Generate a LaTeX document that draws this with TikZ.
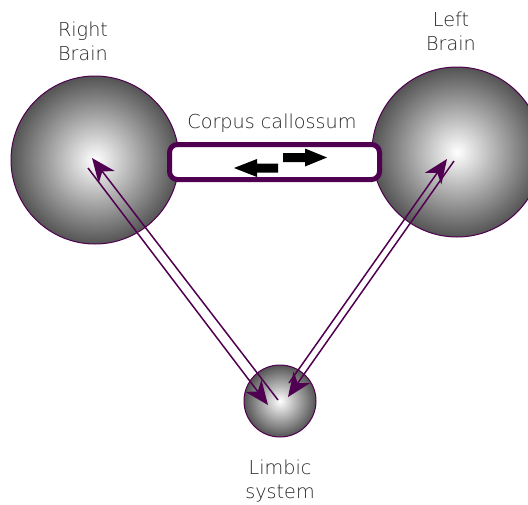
\documentclass[tikz,border=0pt]{standalone}
\usepackage{fontspec}
\setmainfont{DejaVu Sans ExtraLight}
\usetikzlibrary{arrows.meta}
\definecolor{plum}{RGB}{80,0,80}
\begin{document}
\begin{tikzpicture}[x=1pt,y=-1pt,
  brain/.style={circle, draw=plum, line width=1pt, inner color=white, outer color=black!67, inner sep=0pt},
  link/.style={draw=plum, line width=1.5pt, -{Stealth[length=24pt,width=20pt,inset=7pt]}},
  label/.style={text=black!85, font=\fontsize{19.2}{23.5}\selectfont, align=center, inner sep=0pt, anchor=base},
  callosum/.style={draw=plum, line width=5pt, fill=white, rounded corners=8pt, inner sep=0pt},
  block/.style={fill=black}]
\useasboundingbox (0,0) rectangle (528,504);
% circles
\node[brain, minimum size=168pt] (rb) at (95,160) {};
\node[brain, minimum size=170pt] (lb) at (457,152) {};
\node[brain, minimum size=72pt] (ls) at (280,401) {};
% corpus callosum
\node[callosum, minimum width=210pt, minimum height=35pt] (cc) at (274.5,162) {};
\fill[block] (278,163.5) -- (257,163.5) -- (257,159) -- (234,168) -- (257,177) -- (257,172.5) -- (278,172.5) -- cycle;
\fill[block] (283,153) -- (305,153) -- (305,148.5) -- (327,157.5) -- (305,166.5) -- (305,162) -- (283,162) -- cycle;
% labels (anchor = baseline of last line)
\node[label] (rbl) at (83,60) {Right\\Brain};
\node[label] (lbl) at (451,50) {Left\\Brain};
\node[label] (ccl) at (272,128) {Corpus callossum};
\node[label] (lsl) at (280,498) {Limbic\\system};
% connectors
\coordinate (l1s) at (88,168);
\coordinate (l1e) at (268,405);
\coordinate (l2s) at (278,400);
\coordinate (l2e) at (92,158);
\coordinate (r1s) at (454,161);
\coordinate (r1e) at (288,397);
\coordinate (r2s) at (289,383);
\coordinate (r2e) at (447,159);
\draw[link] (l1s) -- (l1e);
\draw[link] (l2s) -- (l2e);
\draw[link] (r1s) -- (r1e);
\draw[link] (r2s) -- (r2e);
\end{tikzpicture}
\end{document}
